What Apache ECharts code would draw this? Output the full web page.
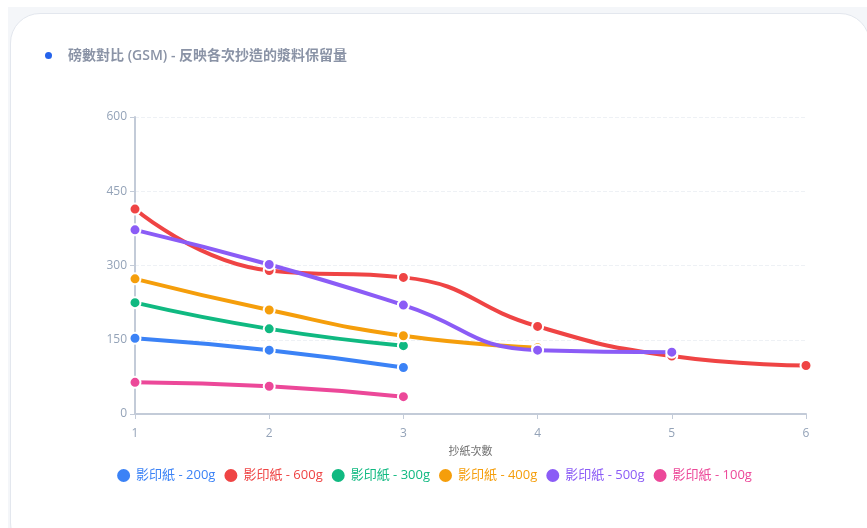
<!DOCTYPE html>
<html>
<head>
<meta charset="utf-8">
<script src="https://cdn.jsdelivr.net/npm/echarts@6/dist/echarts.min.js"></script>
<style>
  html, body { margin: 0; padding: 0; width: 867px; height: 528px; overflow: hidden; background: #ffffff; }
  #backdrop { position: absolute; left: 8px; top: 7px; right: 0; bottom: 0; background: #f4f6f9; }
  #card { position: absolute; left: 10px; top: 13px; width: 860px; height: 540px; background: #ffffff; border: 1px solid #e3e7ee; border-radius: 30px; box-sizing: border-box; }
  #chart { position: absolute; left: 0; top: 0; width: 867px; height: 528px; }
</style>
</head>
<body>
<div id="backdrop"></div>
<div id="card"></div>
<div id="chart"></div>
<script>
// Paper-making rounds (x axis)
const rounds = ['1', '2', '3', '4', '5', '6'];
const yTicks = { min: 0, max: 600, interval: 150 };

// Basis weight (GSM) measured after each round, per paper stock
const gsm200 = [153, 129, 94];
const gsm600 = [414, 290, 276, 177, 117, 98];
const gsm300 = [225, 172, 138];
const gsm400 = [273, 210, 158, 134];
const gsm500 = [372, 302, 220, 129, 125];
const gsm100 = [64, 56, 35];

const seriesDefs = [
  { name: '影印紙 - 200g', data: gsm200, color: '#3b82f6' },
  { name: '影印紙 - 600g', data: gsm600, color: '#ef4444' },
  { name: '影印紙 - 300g', data: gsm300, color: '#10b981' },
  { name: '影印紙 - 400g', data: gsm400, color: '#f59e0b' },
  { name: '影印紙 - 500g', data: gsm500, color: '#8b5cf6' },
  { name: '影印紙 - 100g', data: gsm100, color: '#ec4899' }
];

const FONT = '"Open Sans", "Noto Sans CJK TC", sans-serif';

const chart = echarts.init(document.getElementById('chart'), null, { renderer: 'canvas' });

chart.setOption({
  animation: false,
  backgroundColor: 'transparent',
  graphic: [{
    // small accent dot before the heading
    type: 'circle',
    left: 45,
    top: 52,
    shape: { r: 3.5 },
    style: { fill: '#2563eb' }
  }],
  title: {
    left: 63,
    top: 44,
    text: '磅數對比 (GSM) - 反映各次抄造的漿料保留量',
    textStyle: { color: '#8a93a6', fontSize: 14, fontWeight: 600, fontFamily: FONT }
  },
  legend: {
    bottom: 39,
    left: 'center',
    icon: 'circle',
    itemWidth: 15,
    itemHeight: 15,
    itemGap: 7,
    data: seriesDefs.map(s => ({ name: s.name, textStyle: { color: s.color } })),
    textStyle: { fontSize: 13, fontFamily: FONT }
  },
  grid: { left: 135, right: 61, top: 117, bottom: 114, containLabel: false },
  xAxis: {
    type: 'category',
    data: rounds,
    boundaryGap: false,
    name: '抄紙次數',
    nameLocation: 'middle',
    nameGap: 32,
    nameTextStyle: { color: '#707070', fontSize: 11, fontFamily: FONT },
    axisLine: { lineStyle: { color: '#c3cbd8', width: 2 } },
    axisTick: { show: true, alignWithLabel: true, lineStyle: { color: '#c3cbd8' } },
    axisLabel: { color: '#94a3b8', fontSize: 12, margin: 14, fontFamily: FONT },
    splitLine: { show: false }
  },
  yAxis: {
    type: 'value',
    min: yTicks.min,
    max: yTicks.max,
    interval: yTicks.interval,
    axisLine: { show: true, lineStyle: { color: '#c3cbd8', width: 2 } },
    axisTick: { show: true, lineStyle: { color: '#c3cbd8' } },
    axisLabel: { color: '#94a3b8', fontSize: 12, margin: 8, fontFamily: FONT },
    splitLine: { show: true, lineStyle: { color: '#eef1f5', type: 'dashed' } }
  },
  series: seriesDefs.map(s => ({
    name: s.name,
    type: 'line',
    data: s.data,
    smooth: true,
    symbol: 'circle',
    symbolSize: 11,
    color: s.color,
    lineStyle: { width: 4, color: s.color },
    itemStyle: { color: s.color, borderColor: '#ffffff', borderWidth: 2 }
  }))
});
</script>
</body>
</html>
